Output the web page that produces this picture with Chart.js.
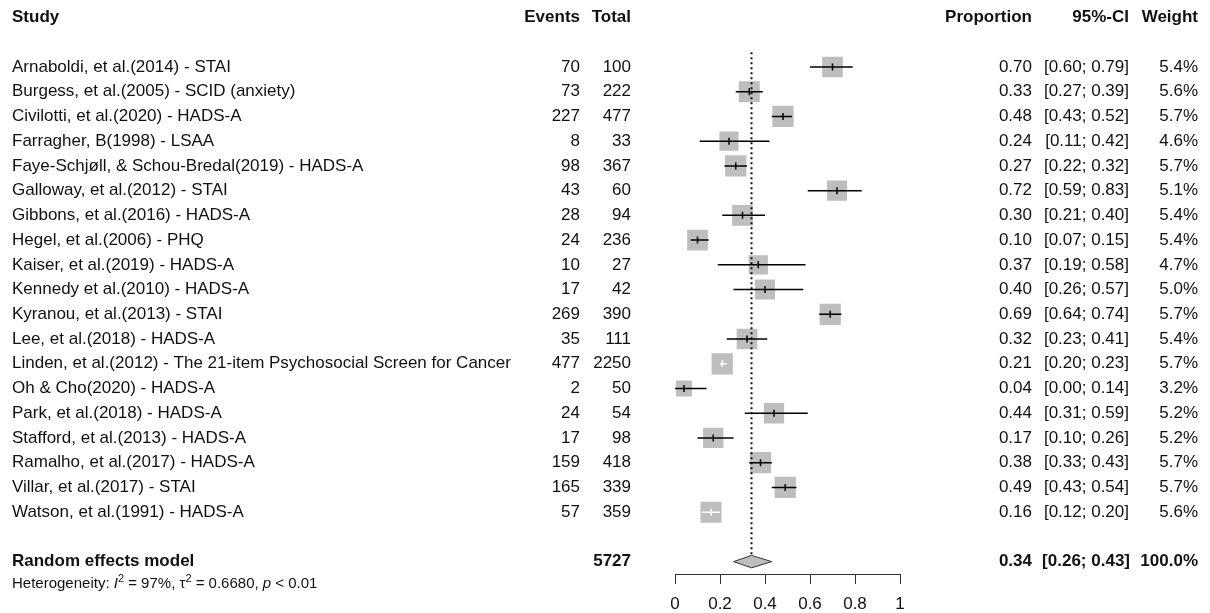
<!DOCTYPE html>
<html>
<head>
<meta charset="utf-8">
<script src="https://cdn.jsdelivr.net/npm/chart.js@4.4.1/dist/chart.umd.min.js"></script>
<style>
  body { margin: 0; background: #fff; }
  canvas { display: block; }
</style>
</head>
<body>
<canvas id="forest" width="1210" height="613"></canvas>
<script>
// study rows, top to bottom
const studies = [
  "Arnaboldi, et al.(2014) - STAI",
  "Burgess, et al.(2005) - SCID (anxiety)",
  "Civilotti, et al.(2020) - HADS-A",
  "Farragher, B(1998) - LSAA",
  "Faye-Schjøll, & Schou-Bredal(2019) - HADS-A",
  "Galloway, et al.(2012) - STAI",
  "Gibbons, et al.(2016) - HADS-A",
  "Hegel, et al.(2006) - PHQ",
  "Kaiser, et al.(2019) - HADS-A",
  "Kennedy et al.(2010) - HADS-A",
  "Kyranou, et al.(2013) - STAI",
  "Lee, et al.(2018) - HADS-A",
  "Linden, et al.(2012) - The 21-item Psychosocial Screen for Cancer",
  "Oh & Cho(2020) - HADS-A",
  "Park, et al.(2018) - HADS-A",
  "Stafford, et al.(2013) - HADS-A",
  "Ramalho, et al.(2017) - HADS-A",
  "Villar, et al.(2017) - STAI",
  "Watson, et al.(1991) - HADS-A"
];
const events = [70, 73, 227, 8, 98, 43, 28, 24, 10, 17, 269, 35, 477, 2, 24, 17, 159, 165, 57];
const totals = [100, 222, 477, 33, 367, 60, 94, 236, 27, 42, 390, 111, 2250, 50, 54, 98, 418, 339, 359];
const proportion = [0.70, 0.33, 0.48, 0.24, 0.27, 0.72, 0.30, 0.10, 0.37, 0.40, 0.69, 0.32, 0.21, 0.04, 0.44, 0.17, 0.38, 0.49, 0.16];
const ciLow = [0.60, 0.27, 0.43, 0.11, 0.22, 0.59, 0.21, 0.07, 0.19, 0.26, 0.64, 0.23, 0.20, 0.00, 0.31, 0.10, 0.33, 0.43, 0.12];
const ciHigh = [0.79, 0.39, 0.52, 0.42, 0.32, 0.83, 0.40, 0.15, 0.58, 0.57, 0.74, 0.41, 0.23, 0.14, 0.59, 0.26, 0.43, 0.54, 0.20];
const weights = [5.4, 5.6, 5.7, 4.6, 5.7, 5.1, 5.4, 5.4, 4.7, 5.0, 5.7, 5.4, 5.7, 3.2, 5.2, 5.2, 5.7, 5.7, 5.6];

// random effects model
const pooledTotal = 5727;
const pooledEst = 0.34;
const pooledLow = 0.26;
const pooledHigh = 0.43;
const pooledWeight = 100.0;
const pooledRow = 20;

const xTicks = [0, 0.2, 0.4, 0.6, 0.8, 1];

const FONT = "'Liberation Sans', Arial, Helvetica, sans-serif";
const FONT_SIZE = 17;
const BOX_GREY = "#bebebe";

function boxSide(i) {
  return 8.9 * Math.sqrt(weights[i]);
}

// both CI ends hidden by the box -> draw it in white, like meta does
function ciInside(chart, i) {
  const xs = chart.scales.x;
  if (!xs) return false;
  const c = xs.getPixelForValue(proportion[i]);
  const half = boxSide(i) / 2;
  return c - xs.getPixelForValue(ciLow[i]) < half && xs.getPixelForValue(ciHigh[i]) - c < half;
}

const ciLines = studies.map((s, i) => ({
  type: "line",
  data: [{ x: ciLow[i], y: i }, { x: ciHigh[i], y: i }],
  borderColor: (c) => ciInside(c.chart, i) ? "#ffffff" : "#000000",
  borderWidth: 1.5,
  pointRadius: 0,
  order: 1
}));

const datasets = [
  {
    // weight boxes
    type: "scatter",
    data: studies.map((s, i) => ({ x: proportion[i], y: i })),
    pointStyle: "rect",
    pointRadius: (c) => boxSide(c.dataIndex) / Math.SQRT2,
    pointHoverRadius: (c) => boxSide(c.dataIndex) / Math.SQRT2,
    backgroundColor: BOX_GREY,
    borderWidth: 0,
    order: 3
  },
  ...ciLines,
  {
    // little vertical mark at the estimate
    type: "scatter",
    data: studies.map((s, i) => ({ x: proportion[i], y: i })),
    pointStyle: "line",
    rotation: 90,
    pointRadius: 3.5,
    pointBorderWidth: 1.5,
    pointBorderColor: (c) => ciInside(c.chart, c.dataIndex) ? "#ffffff" : "#000000",
    order: 0
  },
  {
    // dotted line at the pooled estimate
    type: "line",
    data: [{ x: pooledEst, y: -0.6 }, { x: pooledEst, y: pooledRow - 0.25 }],
    borderColor: "#111",
    borderWidth: 2,
    borderDash: [2, 3],
    pointRadius: 0,
    order: 2
  },
  {
    // pooled diamond
    type: "line",
    data: [
      { x: pooledLow, y: pooledRow },
      { x: pooledEst, y: pooledRow - 0.25 },
      { x: pooledHigh, y: pooledRow },
      { x: pooledEst, y: pooledRow + 0.25 },
      { x: pooledLow, y: pooledRow }
    ],
    borderColor: "#333",
    borderWidth: 1,
    backgroundColor: BOX_GREY,
    fill: "shape",
    pointRadius: 0,
    tension: 0,
    order: 2
  }
];

function txt(ctx, s, x, y, align, bold) {
  ctx.font = (bold ? "bold " : "") + FONT_SIZE + "px " + FONT;
  ctx.textAlign = align;
  ctx.fillText(s, x, y);
}

const tablePlugin = {
  id: "forestTable",
  afterDraw(chart) {
    const ctx = chart.ctx;
    const ys = chart.scales.y;
    ctx.save();
    ctx.fillStyle = "#111";
    ctx.textBaseline = "middle";

    // header
    const hy = ys.getPixelForValue(-2);
    txt(ctx, "Study", 12, hy, "left", true);
    txt(ctx, "Events", 580, hy, "right", true);
    txt(ctx, "Total", 631, hy, "right", true);
    txt(ctx, "Proportion", 1032, hy, "right", true);
    txt(ctx, "95%-CI", 1129, hy, "right", true);
    txt(ctx, "Weight", 1198, hy, "right", true);

    studies.forEach((s, i) => {
      const y = ys.getPixelForValue(i);
      txt(ctx, s, 12, y, "left");
      txt(ctx, String(events[i]), 580, y, "right");
      txt(ctx, String(totals[i]), 631, y, "right");
      txt(ctx, proportion[i].toFixed(2), 1032, y, "right");
      txt(ctx, "[" + ciLow[i].toFixed(2) + "; " + ciHigh[i].toFixed(2) + "]", 1129, y, "right");
      txt(ctx, weights[i].toFixed(1) + "%", 1198, y, "right");
    });

    const py = ys.getPixelForValue(pooledRow);
    txt(ctx, "Random effects model", 12, py, "left", true);
    txt(ctx, String(pooledTotal), 631, py, "right", true);
    txt(ctx, pooledEst.toFixed(2), 1032, py, "right", true);
    txt(ctx, "[" + pooledLow.toFixed(2) + "; " + pooledHigh.toFixed(2) + "]", 1130, py, "right", true);
    txt(ctx, pooledWeight.toFixed(1) + "%", 1198, py, "right", true);

    // heterogeneity line, pieced together for italics and superscripts
    const hgY = ys.getPixelForValue(pooledRow + 0.9);
    const parts = [
      ["Heterogeneity: ", ""], ["I", "italic"], ["2", "sup"], [" = 97%, \u03c4", ""],
      ["2", "sup"], [" = 0.6680, ", ""], ["p", "italic"], [" < 0.01", ""]
    ];
    let x = 12;
    ctx.textAlign = "left";
    parts.forEach(([s, style]) => {
      let size = 15, dy = 0, st = "";
      if (style === "italic") st = "italic ";
      if (style === "sup") { size = 11; dy = -5; }
      ctx.font = st + size + "px " + FONT;
      ctx.fillText(s, x, hgY + dy);
      x += ctx.measureText(s).width;
    });
    ctx.restore();
  }
};

new Chart(document.getElementById("forest"), {
  type: "scatter",
  data: { datasets },
  options: {
    responsive: false,
    animation: false,
    events: [],
    layout: { padding: { left: 675, right: 310, top: 17.5, bottom: 0 } },
    plugins: {
      legend: { display: false },
      tooltip: { enabled: false }
    },
    scales: {
      x: {
        type: "linear",
        min: 0,
        max: 1,
        afterFit: (scale) => { scale.height = 39; },
        afterBuildTicks: (scale) => { scale.ticks = xTicks.map(v => ({ value: v })); },
        ticks: {
          color: "#111",
          padding: 10,
          font: { size: FONT_SIZE, family: FONT },
          maxRotation: 0,
          callback: (v) => String(Number(v.toFixed(1)))
        },
        grid: { drawOnChartArea: false, drawTicks: true, tickLength: 10, color: "#333" },
        border: { display: true, color: "#333", width: 1 }
      },
      y: {
        type: "linear",
        min: -2,
        max: 20.5,
        reverse: true,
        display: false
      }
    }
  },
  plugins: [tablePlugin]
});
</script>
</body>
</html>
